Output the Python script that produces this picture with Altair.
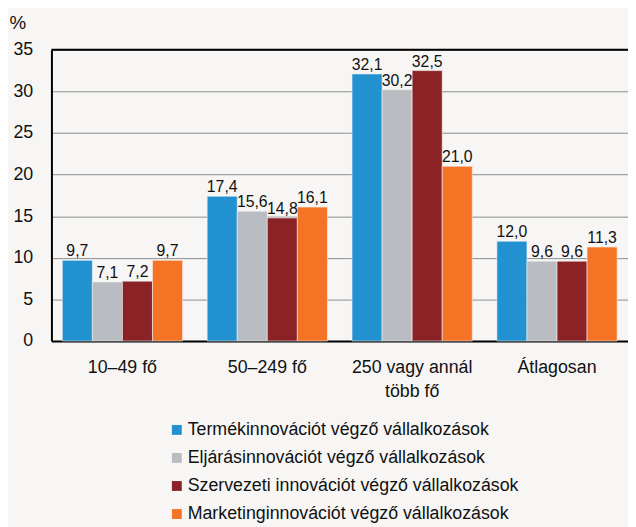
import altair as alt
import pandas as pd

categories = ["10–49 fő", "50–249 fő", "250 vagy annál több fő", "Átlagosan"]
series = [
    "Termékinnovációt végző vállalkozások",
    "Eljárásinnovációt végző vállalkozások",
    "Szervezeti innovációt végző vállalkozások",
    "Marketinginnovációt végző vállalkozások",
]
values = {
    series[0]: [9.7, 17.4, 32.1, 12.0],
    series[1]: [7.1, 15.6, 30.2, 9.6],
    series[2]: [7.2, 14.8, 32.5, 9.6],
    series[3]: [9.7, 16.1, 21.0, 11.3],
}
colors = ["#2191d0", "#b9bdc1", "#8b2226", "#f47324"]

rows = []
for s in series:
    for c, v in zip(categories, values[s]):
        rows.append({"cat": c, "series": s, "value": v,
                     "label": f"{v:.1f}".replace(".", ",")})
df = pd.DataFrame(rows)

FONT = "Liberation Sans"

x = alt.X("cat:N", sort=categories, title=None,
          scale=alt.Scale(paddingInner=0.17, paddingOuter=0.075),
          axis=alt.Axis(labelAngle=0, labelFontSize=18, labelColor="#111",
                        labelPadding=18, ticks=False, domainColor="#000",
                        domainWidth=2, labelLineHeight=24,
                        labelExpr="datum.label == '250 vagy annál több fő' ? ['250 vagy annál', 'több fő'] : datum.label"))
y = alt.Y("value:Q", scale=alt.Scale(domain=[0, 35]),
          axis=alt.Axis(values=list(range(0, 36, 5)), tickCount=8, grid=True,
                        gridColor="#8c8c8c", ticks=False, labelFontSize=18,
                        labelColor="#111", labelPadding=19, domainColor="#000",
                        domainWidth=2, title="%", titleAngle=0, titleX=-43,
                        titleY=-28, titleAlign="left", titleBaseline="middle",
                        titleFontSize=19, titleFontWeight="normal",
                        titleColor="#111"))

base = alt.Chart(df).encode(
    x=x,
    xOffset=alt.XOffset("series:N", sort=series),
)

bars = base.mark_bar(stroke="#f2f2f2", strokeWidth=0.6).encode(
    y=y,
    color=alt.Color("series:N", sort=series,
                    scale=alt.Scale(domain=series, range=colors),
                    legend=alt.Legend(title=None, orient="none", legendX=118,
                                      legendY=376, symbolType="square",
                                      symbolSize=100, symbolStrokeWidth=0,
                                      labelFontSize=18, labelColor="#111",
                                      rowPadding=10.4, labelOffset=2,
                                      labelLimit=400)),
)

text = base.mark_text(baseline="alphabetic", dy=-4, fontSize=16, color="#111",
                      font=FONT).encode(
    y="value:Q",
    text="label:N",
)

top_rule = alt.Chart(pd.DataFrame({"v": [35]})).mark_rule(
    color="#000", strokeWidth=2).encode(y="v:Q")

chart = alt.layer(bars, text, top_rule).properties(
    width=584, height=295,
    padding={"left": 44, "top": 39, "right": 0, "bottom": 185},
    autosize="none",
    background="#f7f6f5",
).configure_view(stroke=None).configure(font=FONT)

chart.save("out.html", embed_options={"renderer": "svg", "actions": False})
